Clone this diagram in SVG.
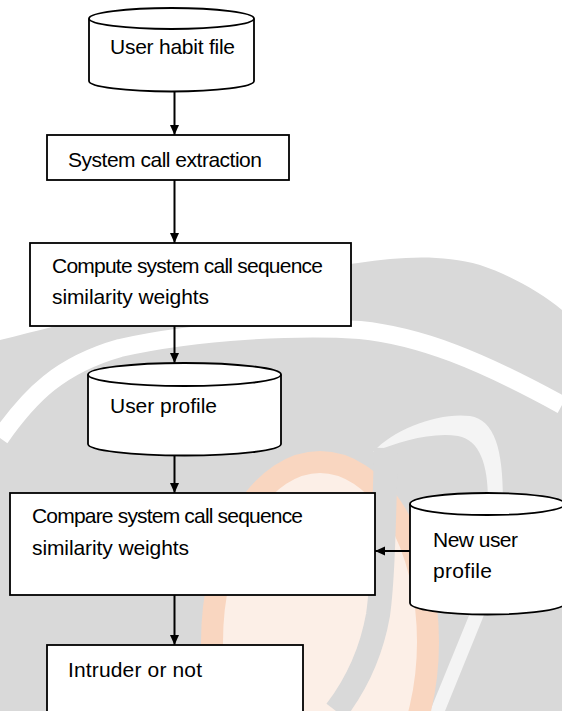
<svg xmlns="http://www.w3.org/2000/svg" width="562" height="711" viewBox="0 0 562 711">
<defs>
<style>
.shape{fill:#fff;stroke:#000;stroke-width:1.8}
.lbl{font-family:"Liberation Sans",Arial,sans-serif;font-size:21px;fill:#000}
.conn{stroke:#000;stroke-width:2;fill:none;marker-end:url(#ah)}
</style>
<marker id="ah" markerUnits="userSpaceOnUse" markerWidth="10" markerHeight="10" viewBox="0 0 10 10" refX="10" refY="5" orient="auto"><path d="M0,0.5 L10,5 L0,9.5 Z" fill="#000"/></marker>
</defs>
<rect width="562" height="711" fill="#fff"/>
<g id="watermark">
<path d="M0,340 C100,315 250,275 358,263 C400,257 440,254 480,265 C510,275 540,292 562,310 L562,711 L0,711 Z" fill="#d9d9d9"/>
<path d="M0,438 C30,395 60,365 120,348 C200,330 300,326 360,330 C420,336 480,360 562,405" stroke="#fff" stroke-width="18" fill="none"/>
<path d="M373,452 C395,428 440,412 470,416 C495,420 503,450 503,500 C503,550 495,590 482,620 L445,711 L430,711 L468,618 C480,590 488,550 488,500 C488,465 480,440 458,436 C430,432 400,442 373,452 Z" fill="#fff" opacity="0.7"/>
<ellipse cx="320" cy="642" rx="108" ry="180" fill="#fcefe7" stroke="#f9d6c0" stroke-width="22"/>
<path d="M386,448 C384,520 383,580 378,615 C370,660 352,690 336,711" stroke="#d9d9d9" stroke-width="24" fill="none"/>
</g>
<g id="connectors">
<line class="conn" x1="174.5" y1="91.5" x2="174.5" y2="135"/>
<line class="conn" x1="174.5" y1="180" x2="174.5" y2="243"/>
<line class="conn" x1="174.5" y1="326" x2="174.5" y2="363"/>
<line class="conn" x1="174.5" y1="455.5" x2="174.5" y2="493"/>
<line class="conn" x1="174.5" y1="595" x2="174.5" y2="645"/>
<line class="conn" x1="410" y1="551" x2="375" y2="551"/>
</g>
<g id="user-habit-file">
<path class="shape" d="M89,18.5 L89,81 A82.5,10.5 0 0 0 254,81 L254,18.5"/>
<ellipse class="shape" cx="171.5" cy="18.5" rx="82.5" ry="10.5"/>
<text class="lbl" x="110" y="54" textLength="125" lengthAdjust="spacing">User habit file</text>
</g>
<g id="system-call-extraction">
<rect class="shape" x="47" y="135" width="242" height="45"/>
<text class="lbl" x="68" y="167" textLength="194" lengthAdjust="spacing">System call extraction</text>
</g>
<g id="compute-weights">
<rect class="shape" x="30" y="243" width="321" height="83"/>
<text class="lbl" x="52" y="273" textLength="271" lengthAdjust="spacing">Compute system call sequence</text>
<text class="lbl" x="52" y="304" textLength="157" lengthAdjust="spacing">similarity weights</text>
</g>
<g id="user-profile">
<path class="shape" d="M88,374.5 L88,444 A96.5,11.5 0 0 0 281,444 L281,374.5"/>
<ellipse class="shape" cx="184.5" cy="374.5" rx="96.5" ry="11.5"/>
<text class="lbl" x="110" y="413" textLength="107" lengthAdjust="spacing">User profile</text>
</g>
<g id="compare-weights">
<rect class="shape" x="10" y="493" width="365" height="102"/>
<text class="lbl" x="32" y="523" textLength="271" lengthAdjust="spacing">Compare system call sequence</text>
<text class="lbl" x="32" y="555" textLength="157" lengthAdjust="spacing">similarity weights</text>
</g>
<g id="new-user-profile">
<path class="shape" d="M410,504 L410,603 A77.5,11.5 0 0 0 565,603 L565,504"/>
<ellipse class="shape" cx="487.5" cy="504" rx="77.5" ry="11"/>
<text class="lbl" x="433" y="547" textLength="85" lengthAdjust="spacing">New user</text>
<text class="lbl" x="433" y="578" textLength="59" lengthAdjust="spacing">profile</text>
</g>
<g id="intruder-or-not">
<rect class="shape" x="47" y="645" width="256" height="80"/>
<text class="lbl" x="68" y="677" textLength="134" lengthAdjust="spacing">Intruder or not</text>
</g>
</svg>
